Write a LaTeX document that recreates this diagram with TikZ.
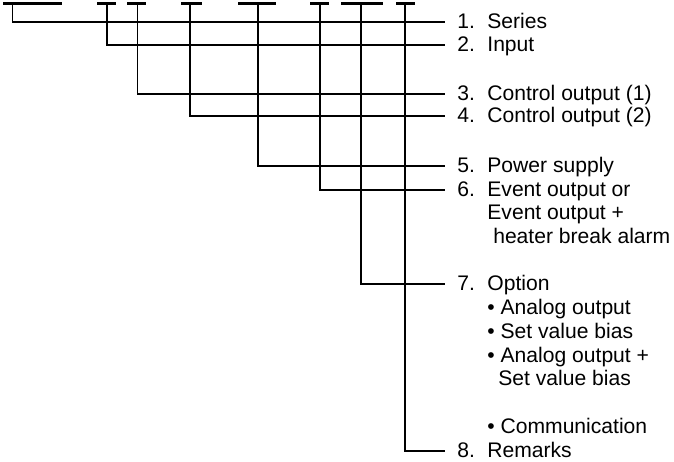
\documentclass[tikz,border=0pt]{standalone}
\usepackage{fontspec}
\setmainfont{Liberation Sans}
\newcommand{\itemno}[1]{\makebox[15pt][l]{#1}}

\begin{document}
\begin{tikzpicture}[x=0.5pt,y=-0.5pt,
	every node/.style={font=\fontsize{10.55pt}{12pt}\selectfont, text height=1.5ex, text depth=.25ex, inner ysep=0pt},
	lbl/.style={anchor=west, inner xsep=6pt},
	sub/.style={anchor=west, inner xsep=0pt},
	bar/.style={line width=1.5pt},
	wire/.style={line width=0.75pt}]
	\useasboundingbox (0,0) rectangle (674,461);
	\coordinate (b1) at (12.7,3);
	\coordinate (b2) at (107,3);
	\coordinate (b3) at (137.7,3);
	\coordinate (b4) at (190,3);
	\coordinate (b5) at (258,3);
	\coordinate (b6) at (320,3);
	\coordinate (b7) at (361,3);
	\coordinate (b8) at (405,3);
	\node[lbl] (t1) at (445,22) {\itemno{1.}Series};
	\node[lbl] (t2) at (445,45) {\itemno{2.}Input};
	\node[lbl] (t3) at (445,94) {\itemno{3.}Control output (1)};
	\node[lbl] (t4) at (445,116) {\itemno{4.}Control output (2)};
	\node[lbl] (t5) at (445,166) {\itemno{5.}Power supply};
	\node[lbl] (t6) at (445,190) {\itemno{6.}Event output or};
	\node[sub] (t6a) at (487,213) {Event output +};
	\node[sub] (t6b) at (487,237) {\ heater break alarm};
	\node[lbl] (t7) at (445,284) {\itemno{7.}Option};
	\node[sub] (t7a) at (487,308) {• Analog output};
	\node[sub] (t7b) at (487,332) {• Set value bias};
	\node[sub] (t7c) at (487,356) {• Analog output +};
	\node[sub] (t7d) at (498,379) {Set value bias};
	\node[sub] (t7e) at (487,427) {• Communication};
	\node[lbl] (t8) at (445,451) {\itemno{8.}Remarks};
	% code fields
	\draw[bar] (3,3) -- (62,3);
	\draw[bar] (97,3) -- (116,3);
	\draw[bar] (127,3) -- (146,3);
	\draw[bar] (181,3) -- (202,3);
	\draw[bar] (238,3) -- (276,3);
	\draw[bar] (310,3) -- (329,3);
	\draw[bar] (341,3) -- (383,3);
	\draw[bar] (396,3) -- (415,3);
	% leaders
	\draw[wire] (b1) |- (t1.west);
	\draw[wire] (b2) |- (t2.west);
	\draw[wire] (b3) |- (t3.west);
	\draw[wire] (b4) |- (t4.west);
	\draw[wire] (b5) |- (t5.west);
	\draw[wire] (b6) |- (t6.west);
	\draw[wire] (b7) |- (t7.west);
	\draw[wire] (b8) |- (t8.west);
\end{tikzpicture}
\end{document}
